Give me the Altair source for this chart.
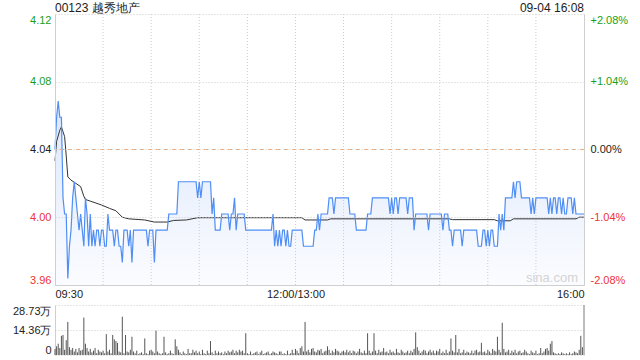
import altair as alt
import pandas as pd

# ---------------- data ----------------
stock_title = "00123 越秀地产"
stamp = "09-04 16:08"
watermark = "sina.com"
prev_close = 4.04
max_pct = 2.08  # symmetric price range around previous close (percent)

# one price per minute, 09:30 -> 16:00 (0..330 trading minutes)
price = [
    4.04, 4.06, 4.07, 4.06, 4.06, 4.01, 4.00, 4.00, 3.96, 3.98,
    3.99, 4.01, 4.02, 4.01, 4.00, 3.99, 4.00, 3.99, 3.98, 4.01,
    4.00, 3.98, 4.00, 3.98, 3.99, 3.98, 3.99, 3.99, 3.98, 3.99,
    3.99, 3.98, 3.98, 4.00, 3.99, 3.99, 3.99, 3.98, 3.99, 3.99,
    3.98, 3.98, 3.97, 3.99, 3.99, 3.99, 3.98, 3.99, 3.97, 3.99,
    3.99, 3.99, 3.99, 3.99, 3.99, 3.99, 3.99, 3.99, 3.98, 3.99,
    3.99, 3.99, 3.97, 3.99, 3.99, 3.99, 3.99, 3.99, 3.99, 3.99,
    3.99, 4.00, 4.00, 4.00, 4.00, 4.00, 4.00, 4.02, 4.02, 4.02,
    4.02, 4.02, 4.02, 4.02, 4.02, 4.02, 4.02, 4.02, 4.02, 4.01,
    4.02, 4.01, 4.02, 4.02, 4.02, 4.02, 4.02, 4.02, 4.00, 4.01,
    3.99, 3.99, 3.99, 3.99, 4.00, 4.00, 4.00, 4.00, 4.00, 3.99,
    4.00, 4.00, 4.01, 3.99, 4.00, 4.00, 4.00, 4.00, 4.00, 3.99,
    3.99, 3.99, 3.99, 3.99, 3.99, 3.99, 3.99, 3.99, 3.99, 3.99,
    3.99, 3.99, 3.99, 3.99, 3.99, 3.99, 4.00, 3.98, 3.99, 3.98,
    3.99, 3.98, 3.99, 3.99, 3.98, 3.99, 3.98, 3.98, 3.99, 3.99,
    3.99, 3.99, 3.99, 3.99, 3.99, 3.98, 3.98, 3.98, 3.98, 3.98,
    3.98, 3.98, 3.99, 3.99, 4.00, 3.99, 4.00, 4.00, 4.00, 4.00,
    4.00, 4.01, 4.01, 4.01, 4.00, 4.01, 4.01, 4.01, 4.01, 4.01,
    4.01, 4.01, 4.01, 4.01, 4.00, 4.00, 4.00, 4.00, 3.99, 3.99,
    3.99, 3.99, 3.99, 3.99, 3.99, 4.00, 4.00, 4.00, 4.01, 4.01,
    4.01, 4.01, 4.01, 4.01, 4.01, 4.01, 4.01, 4.01, 4.01, 4.00,
    4.01, 4.00, 4.01, 4.01, 4.00, 4.01, 4.01, 4.01, 4.01, 4.01,
    4.00, 4.01, 4.01, 4.01, 3.99, 4.00, 4.00, 4.00, 4.00, 4.00,
    4.00, 4.00, 4.00, 3.99, 4.00, 4.00, 4.00, 4.00, 4.00, 4.00,
    4.00, 4.00, 3.99, 4.00, 4.00, 4.00, 3.99, 3.99, 3.98, 3.99,
    3.99, 3.99, 3.99, 3.99, 3.98, 3.99, 3.99, 3.99, 3.99, 3.99,
    3.99, 3.99, 3.99, 3.99, 3.98, 3.98, 3.98, 3.99, 3.99, 3.98,
    3.99, 3.98, 3.99, 3.99, 3.98, 3.98, 3.98, 4.00, 3.99, 4.00,
    3.99, 4.01, 4.01, 4.01, 4.01, 4.01, 4.02, 4.01, 4.02, 4.02,
    4.02, 4.01, 4.01, 4.01, 4.01, 4.01, 4.01, 4.00, 4.01, 4.00,
    4.01, 4.01, 4.01, 4.01, 4.01, 4.01, 4.01, 4.01, 4.00, 4.01,
    4.00, 4.01, 4.01, 4.00, 4.01, 4.01, 4.00, 4.01, 4.00, 4.00,
    4.01, 4.01, 4.01, 4.00, 4.01, 4.00, 4.00, 4.00, 4.00, 4.00,
    4.00,
]

# average-price line, read at its turning points (minute, price)
avg_t = [0, 1, 3, 4, 6, 7, 8, 10, 13, 16, 18, 19, 22, 29, 34, 38, 42, 46, 56, 62,
         70, 74, 82, 89, 154, 156, 170, 172, 246, 248, 274, 276, 284, 286, 325, 327, 330]
avg_v = [4.033, 4.045, 4.052, 4.054, 4.048, 4.036, 4.023, 4.021, 4.019, 4.017,
         4.011, 4.009, 4.008, 4.0056, 4.0035, 4.002, 3.998, 3.997, 3.9963, 3.995,
         3.995, 3.996, 3.9963, 3.9977, 3.9977, 3.9963, 3.9963, 3.997, 3.997, 3.9965,
         3.9965, 3.9958, 3.9958, 3.997, 3.997, 3.998, 3.998]

# volume per minute, in 万 shares
volume = [
    3.5, 5.0, 6.5, 4.0, 11.0, 11.5, 3.0, 8.5, 19.0, 4.5,
    3.0, 4.0, 2.0, 3.5, 1.5, 4.0, 2.5, 3.0, 21.5, 6.5,
    4.0, 2.0, 3.5, 1.5, 2.5, 4.0, 1.0, 3.0, 2.0, 1.5,
    2.5, 1.0, 12.0, 2.0, 3.0, 1.0, 11.5, 9.0, 8.0, 7.0,
    2.0, 1.5, 22.0, 1.0, 11.5, 2.0, 1.5, 3.0, 10.5, 2.0,
    1.0, 2.5, 0.5, 1.0, 1.5, 0.5, 9.5, 1.0, 0.5, 2.5,
    3.0, 2.0, 1.0, 14.0, 2.0, 1.0, 0.5, 1.0, 10.5, 1.5,
    0.5, 1.0, 2.5, 1.0, 0.5, 9.0, 5.0, 3.0, 1.5, 0.5,
    2.0, 1.0, 0.5, 3.5, 1.0, 1.0, 3.0, 1.5, 2.5, 1.0,
    2.0, 0.5, 3.0, 1.0, 0.5, 2.5, 1.0, 8.0, 1.5, 0.5,
    2.5, 1.0, 2.0, 1.0, 1.5, 0.5, 2.0, 1.0, 2.5, 1.5,
    2.0, 3.0, 1.0, 2.5, 1.5, 3.0, 2.0, 2.5, 1.0, 12.5,
    1.0, 0.5, 2.0, 0.5, 1.0, 1.5, 2.0, 0.5, 1.5, 2.5,
    0.5, 1.0, 1.5, 2.0, 0.5, 1.0, 2.0, 1.5, 1.0, 0.5,
    2.0, 2.0, 0.5, 1.0, 0.5, 2.5, 0.5, 1.0, 3.0, 1.0,
    3.5, 2.5, 1.0, 4.0, 5.0, 2.0, 19.0, 2.0, 3.0, 1.5,
    3.5, 4.0, 2.0, 1.5, 3.0, 2.5, 3.5, 1.0, 2.0, 2.5,
    5.0, 3.0, 1.0, 2.5, 1.5, 3.5, 2.5, 2.0, 1.0, 2.0,
    2.5, 1.5, 3.0, 1.5, 2.5, 1.0, 2.5, 2.0, 1.0, 2.0,
    3.5, 1.5, 1.0, 2.5, 1.0, 12.5, 2.5, 1.0, 2.0, 12.5,
    2.5, 1.0, 3.0, 1.5, 2.0, 4.0, 1.5, 2.0, 1.0, 3.0,
    1.5, 2.0, 1.0, 3.5, 1.5, 1.0, 3.0, 2.0, 1.0, 1.5,
    2.5, 1.0, 2.5, 1.5, 3.5, 13.0, 4.5, 2.5, 1.0, 2.0,
    3.0, 2.5, 1.0, 2.0, 3.0, 1.5, 2.5, 1.0, 2.5, 2.0,
    3.5, 1.0, 2.0, 1.0, 3.0, 1.0, 2.0, 9.5, 2.5, 1.5,
    11.5, 1.5, 3.5, 1.0, 1.5, 3.0, 1.0, 2.0, 1.5, 1.0,
    2.5, 1.0, 2.5, 3.0, 1.5, 2.0, 7.0, 1.5, 2.0, 1.0,
    3.0, 2.0, 1.0, 3.5, 2.5, 2.0, 10.5, 3.0, 1.5, 18.5,
    3.5, 1.5, 2.0, 3.0, 1.0, 2.5, 1.5, 3.0, 1.0, 2.0,
    2.5, 1.0, 1.5, 3.0, 2.0, 1.0, 0.5, 2.5, 1.5, 1.0,
    2.5, 0.5, 1.0, 4.0, 1.0, 2.0, 3.5, 4.0, 2.5, 6.5,
    8.0, 1.5, 1.0, 0.5, 1.0, 0.5, 1.5, 1.0, 0.5, 1.0,
    0.5, 1.5, 0.5, 1.0, 2.0, 1.5, 1.0, 3.0, 11.0, 4.5,
    28.73,
]
vol_max = 28.73
vol_ticks = [0, 14.36, 28.73]

time_ticks = [0, 150, 330]
grid_minutes = [30, 60, 90, 120, 150, 180, 210, 240, 270, 300]

# ---------------- frames ----------------
n = len(price)
df = pd.DataFrame({"t": list(range(n)), "price": price})
dv = pd.DataFrame({"t": list(range(len(volume))), "vol": volume})
davg = pd.DataFrame({"t": avg_t, "avg": avg_v})
dgrid = pd.DataFrame({"t": grid_minutes})
dprev = pd.DataFrame({"p": [prev_close]})

lo = prev_close * (1 - max_pct / 100)
hi = prev_close * (1 + max_pct / 100)
price_ticks = [prev_close * (1 + k * max_pct / 200) for k in (-2, -1, 0, 1, 2)]

W = 529
PH = 271          # price panel height
VT, VB = 291, 341  # volume panel top / bottom (same view)
H = VB

FONT = "Liberation Sans"
GREEN = "#1a9f1a"
RED = "#f03434"
GRID = "#cccccc"
BORDER = "#cfcfcf"
BLUE = "#4f8ef5"

xscale = alt.Scale(domain=[0, 330], nice=False, zero=False)
yscale = alt.Scale(domain=[lo, hi], range=[PH, 0], nice=False, zero=False)
vscale = alt.Scale(domain=[0, vol_max], range=[VB, VT], nice=False, zero=False)

xaxis = alt.Axis(
    values=time_ticks,
    labelExpr="datum.value == 0 ? '09:30' : datum.value == 150 ? '12:00/13:00' : '16:00'",
    grid=False, ticks=False, domain=True, domainColor=BORDER,
    offset=-(H - PH), labelFlush=True, labelOverlap=False, labelPadding=3,
    title=None, labelFont=FONT, labelFontSize=11, labelColor="#222", zindex=2,
)
X = alt.X("t:Q", scale=xscale, axis=xaxis)

color_cond = {
    "condition": [
        {"test": f"datum.value > {prev_close + 0.0005}", "value": GREEN},
        {"test": f"datum.value < {prev_close - 0.0005}", "value": RED},
    ],
    "value": "#222",
}

left_axis = alt.Axis(
    orient="left", values=price_ticks, labelExpr="format(datum.value, '.2f')",
    grid=True, gridColor=GRID, gridDash=[1, 2], domain=True, domainColor=BORDER,
    ticks=False, labelFlush=True, labelPadding=4, title=None,
    labelFont=FONT, labelFontSize=11, labelColor=color_cond, zindex=1,
)
right_axis = alt.Axis(
    orient="right", values=price_ticks,
    labelExpr=(f"abs(datum.value - {prev_close}) < 0.0005 ? '0.00%' : "
               f"(datum.value > {prev_close} ? '+' : '-') + "
               f"format(abs(datum.value / {prev_close} - 1) * 100, '.2f') + '%'"),
    grid=False, domain=True, domainColor=BORDER, ticks=False, labelFlush=True,
    labelPadding=6, title=None, labelFont=FONT, labelFontSize=11, labelColor=color_cond,
    zindex=1,
)
vol_axis = alt.Axis(
    orient="left", values=vol_ticks,
    labelExpr="datum.value == 0 ? '0' : format(datum.value, '.2f') + '万'",
    grid=True, gridColor=GRID, gridDash=[1, 2], domain=True, domainColor=BORDER,
    ticks=False, labelFlush=True, labelPadding=4, title=None,
    labelFont=FONT, labelFontSize=11, labelColor="#222",
)

area = alt.Chart(df).mark_area(
    color=alt.Gradient(
        gradient="linear",
        stops=[alt.GradientStop(color="#dce7fb", offset=0),
               alt.GradientStop(color="#fbfcff", offset=1)],
        x1=1, x2=1, y1=0, y2=1,
    )
).encode(x=X, y=alt.Y("price:Q", scale=yscale, axis=left_axis), y2=alt.Y2Datum(datum=lo))

vgrid = alt.Chart(dgrid).mark_rule(color=GRID, strokeDash=[1, 2], strokeWidth=1).encode(
    x=X, y=alt.value(0), y2=alt.value(PH)
)

mark_wm = alt.Chart(pd.DataFrame({"s": [watermark]})).mark_text(
    align="center", baseline="middle", font=FONT, fontSize=13, color="#d4d4d4"
).encode(text="s:N", x=alt.value(497), y=alt.value(PH - 7))

prev_line = alt.Chart(dprev).mark_rule(color="#f2a36b", strokeDash=[4, 4], strokeWidth=1).encode(
    y=alt.Y("p:Q", scale=yscale, axis=None)
)

pline = alt.Chart(df).mark_line(color=BLUE, strokeWidth=1.2).encode(
    x=X, y=alt.Y("price:Q", scale=yscale, axis=None)
)

aline = alt.Chart(davg).mark_line(color="#333333", strokeWidth=1).encode(
    x=X, y=alt.Y("avg:Q", scale=yscale, axis=None)
)

right = alt.Chart(df).mark_point(opacity=0).encode(
    x=X, y=alt.Y("price:Q", scale=yscale, axis=right_axis)
)

bars = alt.Chart(dv).mark_rule(color="#555555", strokeWidth=1).encode(
    x=X, y=alt.Y("vol:Q", scale=vscale, axis=vol_axis), y2=alt.value(VB)
)

vol_border = alt.Chart(dprev).mark_rule(color=BORDER).encode(
    x=alt.value(W), y=alt.value(VT), y2=alt.value(VB)
)

title_l = alt.Chart(pd.DataFrame({"s": [stock_title]})).mark_text(
    align="left", baseline="middle", font=FONT, fontSize=12, color="#222"
).encode(text="s:N", x=alt.value(0), y=alt.value(-6))

title_r = alt.Chart(pd.DataFrame({"s": [stamp]})).mark_text(
    align="right", baseline="middle", font=FONT, fontSize=12, color="#222"
).encode(text="s:N", x=alt.value(W), y=alt.value(-6))

chart = alt.layer(
    area, vgrid, mark_wm, prev_line, aline, pline, right, bars, vol_border, title_l, title_r
).resolve_scale(y="independent").resolve_axis(y="independent").properties(
    width=W, height=H,
    autosize=alt.AutoSizeParams(type="none"),
    padding={"left": 55, "top": 14, "right": 56, "bottom": 5},
    background="white",
).configure_view(stroke=None)

chart.save("out.html", embed_options={"renderer": "svg", "actions": False})
